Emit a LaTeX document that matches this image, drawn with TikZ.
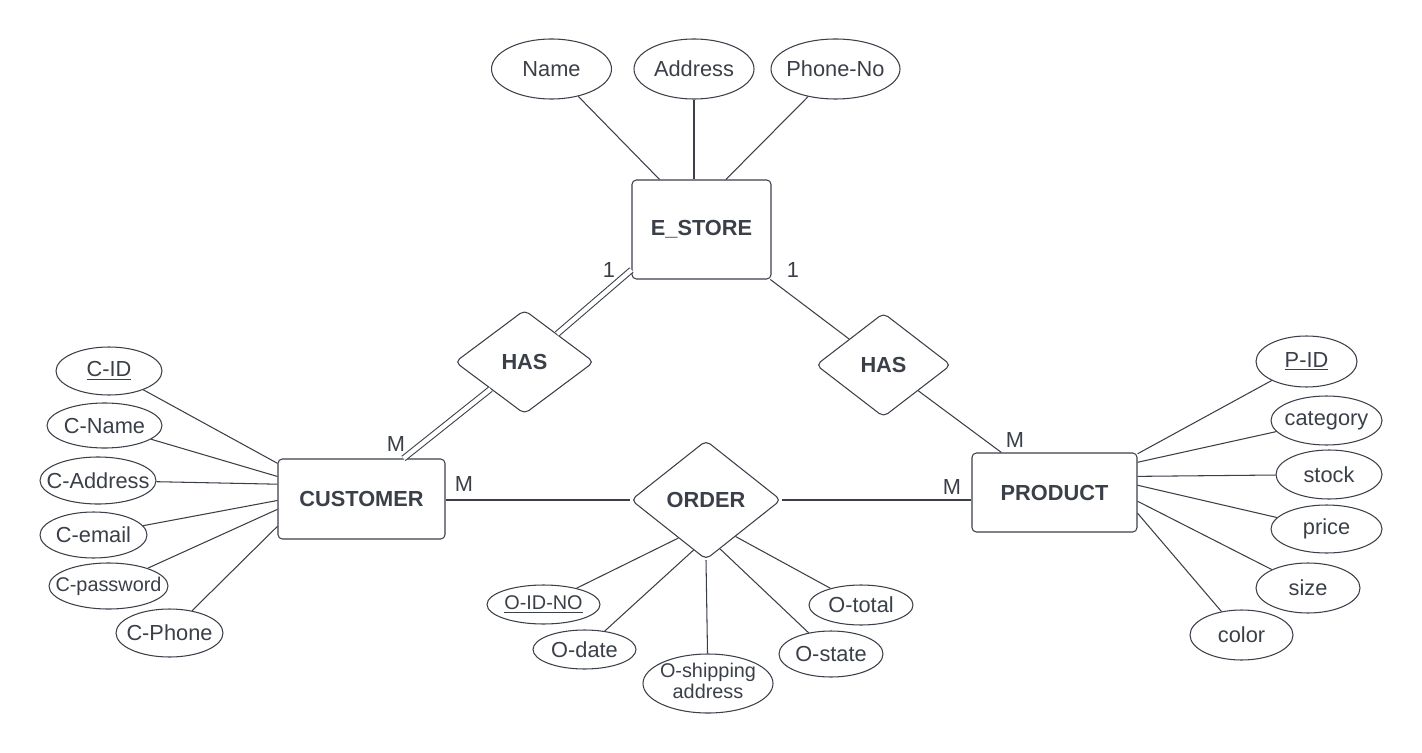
\documentclass[tikz,border=0pt]{standalone}
\usepackage{fontspec}
\setmainfont{Liberation Sans}
\usetikzlibrary{shapes.geometric}
\definecolor{ink}{HTML}{3A3F48}
\newcommand{\attrlbl}[1]{\makebox[0pt]{#1}}
\tikzset{
  entity/.style 2 args = {rectangle, draw=ink, rounded corners=2.5pt,
                minimum width=#1*0.02cm, minimum height=#2*0.02cm,
                inner sep=0pt, font=\fontsize{12.4}{14}\selectfont\bfseries},
  rel/.style 2 args = {diamond, draw=ink, rounded corners=3pt, aspect=1.3,
                minimum width=#1*0.02cm, minimum height=#2*0.02cm,
                inner sep=0pt, font=\fontsize{12.4}{14}\selectfont\bfseries},
  attr/.style 2 args = {ellipse, draw=ink, inner sep=0pt,
                minimum width=#1*0.02cm, minimum height=#2*0.02cm},
  small/.style = {font=\fontsize{11.3}{11.8}\selectfont}
}

\begin{document}
\begin{tikzpicture}[x=0.02cm, y=-0.02cm, line width=0.6pt, draw=ink, text=ink,
                    font=\fontsize{12.4}{14}\selectfont]
	\useasboundingbox (0,0) rectangle (1422,753);

	% Entities
	\node[entity={139}{99}] (estore) at (701.5,229.5) {E\_STORE};
	\node[entity={167}{80}] (cust) at (361.5,499) {CUSTOMER};
	\node[entity={165}{79}] (prod) at (1054.5,492.5) {PRODUCT};

	% Relationships
	\node[rel={139}{104}] (has1) at (524.5,362) {HAS};
	\node[rel={135}{104}] (has2) at (883.5,365) {HAS};
	\node[rel={150}{119}] (order) at (706,500) {ORDER};

	% E_STORE attributes
	\node[attr={120}{60}] (name) at (551.5,69) {\attrlbl{Name}};
	\node[attr={120}{60}] (addr) at (694,69) {\attrlbl{Address}};
	\node[attr={129}{60}] (phone) at (835.5,69) {\attrlbl{Phone-No}};

	% CUSTOMER attributes
	\node[attr={106}{48}] (cid) at (109,371) {\attrlbl{\underline{C-ID}}};
	\node[attr={115}{45}] (cname) at (104.5,425.5) {\attrlbl{C-Name}};
	\node[attr={116}{47}] (caddr) at (98,480.5) {\attrlbl{C-Address}};
	\node[attr={107}{46}] (cemail) at (93.5,535) {\attrlbl{C-email}};
	\node[attr={119}{46}, small] (cpass) at (108.5,586) {\attrlbl{C-password}};
	\node[attr={107}{48}] (cphone) at (169.5,633) {\attrlbl{C-Phone}};

	% ORDER attributes
	\node[attr={113}{39}, small] (oid) at (543.5,604.5) {\attrlbl{\underline{O-ID-NO}}};
	\node[attr={103}{39}] (odate) at (584.5,649.5) {\attrlbl{O-date}};
	\node[attr={130}{59}, small] (oship) at (708,683.5)
		{\attrlbl{\begin{tabular}{@{}c@{}}O-shipping\\address\end{tabular}}};
	\node[attr={104}{46}] (ostate) at (831,654) {\attrlbl{O-state}};
	\node[attr={104}{40}] (ototal) at (861,605) {\attrlbl{O-total}};

	% PRODUCT attributes
	\node[attr={101}{51}] (pid) at (1306.5,361.5) {\attrlbl{\underline{P-ID}}};
	\node[attr={111}{49}] (pcat) at (1326.5,420.5) {\attrlbl{category}};
	\node[attr={106}{49}] (pstock) at (1329,474.5) {\attrlbl{stock}};
	\node[attr={111}{48}] (pprice) at (1326.5,529) {\attrlbl{price}};
	\node[attr={104}{50}] (psize) at (1308,588) {\attrlbl{size}};
	\node[attr={103}{50}] (pcolor) at (1241.5,635) {\attrlbl{color}};

	% Attribute lines
	\draw (name) -- (estore.130.6);
	\draw (addr) -- (addr |- estore.north);
	\draw (phone) -- (estore.64.6);

	\draw (cid) -- (cust.157.8);
	\draw (cname) -- (cust.165.2);
	\draw (caddr) -- (cust.170.5);
	\draw (cemail) -- (cust.181);
	\draw (cpass) -- (cust.187.5);
	\draw (cphone) -- (cust.198.5);

	\draw (oid) -- (order.234);
	\draw (odate) -- (order.256);
	\draw (oship) -- (order.south);
	\draw (ostate) -- (order.286);
	\draw (ototal) -- (order.309);

	\draw (pid) -- (prod.25.9);
	\draw (pcat) -- (prod.20.3);
	\draw (pstock) -- (prod.11.3);
	\draw (pprice) -- (prod.5.9);
	\draw (psize) -- (prod.354.8);
	\draw (pcolor) -- (prod.346);

	% Relationship lines
	\draw[double=white, double distance=2.5pt] (estore.210) -- (has1);
	\draw[double=white, double distance=2.5pt] (has1) -- (cust.44);
	\draw (estore.324.5) -- (has2);
	\draw (has2) -- (prod.143);
	\draw (cust.east |- order) -- (order);
	\draw (order) -- (prod.west |- order);

	% Cardinalities
	\node (one1) at (609,270) {1};
	\node (one2) at (793,270) {1};
	\node (m1) at (396,444) {M};
	\node (m2) at (464,484) {M};
	\node (m3) at (952,487) {M};
	\node (m4) at (1015,440) {M};

\end{tikzpicture}
\end{document}
